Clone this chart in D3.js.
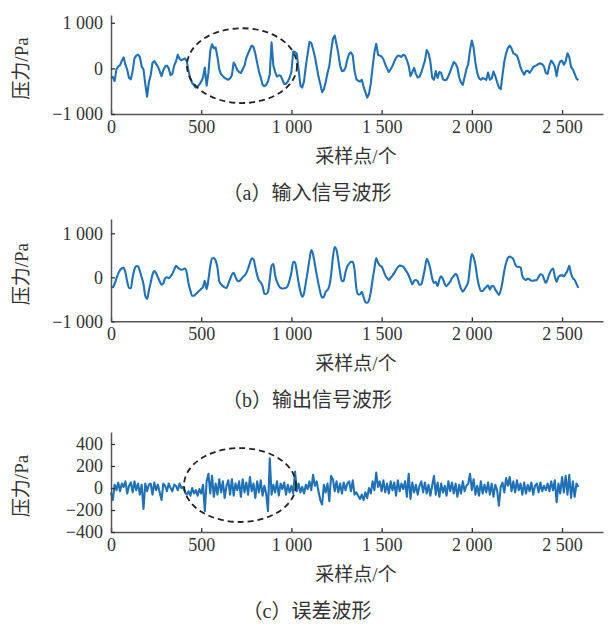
<!DOCTYPE html>
<html>
<head>
<meta charset="utf-8">
<script src="https://cdnjs.cloudflare.com/ajax/libs/d3/7.8.5/d3.min.js"></script>
<style>
body {margin: 0; background: #fff;}
text {font-family: "Liberation Serif", "Noto Sans CJK SC", serif; fill: #333;}
</style>
</head>
<body>
<svg id="chart" width="608" height="633"></svg>
<script>
// one value every 10 samples
const step = 10;

// (a) input pressure, Pa
const inputWave = [
  -216,-185,-280,-20,40,72,170,240,80,-30,
  -210,-240,-60,220,280,300,250,40,-20,-340,
  -620,-300,-150,120,160,100,40,-60,-170,-40,
  40,60,0,-150,-120,60,150,300,210,180,
  200,220,160,-60,-230,-320,-370,-420,-400,-350,
  -290,-200,20,-380,-100,380,530,440,460,250,
  -20,-130,-170,-210,-230,-250,-220,-150,130,60,
  -40,-80,-100,-20,60,230,330,420,500,470,
  320,120,-70,-200,-360,-390,-360,-290,-130,570,
  60,-80,-180,-150,-160,-250,-340,-340,-290,-200,
  -80,370,360,320,-40,-380,-420,-280,50,320,
  580,560,420,260,40,-180,-340,-520,-460,-300,
  -100,50,380,650,720,530,330,60,-60,-50,
  20,200,320,350,280,-60,-240,-270,-290,-250,
  -400,-520,-640,-560,-330,30,350,540,300,280,
  260,200,90,0,-80,-20,50,150,230,280,
  270,250,300,280,180,60,-170,-80,10,-120,
  -200,-180,-90,40,170,400,330,150,-200,-250,
  -60,-210,-80,-100,-240,-260,-250,-170,-70,40,
  140,100,20,-200,-310,-360,-190,-20,100,400,
  610,450,120,-100,-220,-250,-210,-230,-250,-90,
  -250,-220,-70,-170,-300,-420,-460,-150,150,330,
  450,500,440,330,310,280,170,20,-70,-140,
  -60,-50,-100,-40,30,50,70,100,110,90,
  40,-100,-120,60,170,120,40,-170,60,150,
  170,80,150,330,250,30,-20,-120,-220,-260
];

// (b) output pressure, Pa
const outputWave = [
  -212,-225,-150,-30,85,160,205,215,110,-100,
  -240,-250,0,180,255,250,140,0,-150,-420,
  -490,-300,-120,60,140,90,0,-90,-170,-140,
  -20,0,-20,20,80,170,260,220,190,170,
  180,200,100,-150,-300,-420,-420,-380,-340,-300,
  -260,-220,-80,-270,-50,250,430,440,380,220,
  -90,-160,-200,-230,-245,-150,-40,60,100,10,
  -70,-90,-50,0,40,100,200,330,430,410,
  230,50,-70,-120,-200,-370,-380,-330,-50,260,
  300,40,-100,-190,-240,-255,-250,-240,-190,-60,
  110,350,340,130,-130,-330,-440,-360,-120,130,
  400,620,520,300,60,-150,-340,-460,-440,-330,
  -290,-200,60,450,690,620,380,100,-90,-70,
  120,250,310,350,350,170,-250,-390,-390,-330,
  -450,-560,-580,-520,-330,-50,200,440,330,270,
  245,150,50,-20,-60,-10,40,100,170,230,
  265,260,243,180,120,40,-60,-160,-80,-60,
  -90,-170,-160,0,200,420,340,190,-20,-130,
  -100,-200,-50,20,-40,-150,-200,-150,-100,-20,
  30,80,20,-130,-260,-326,-270,-200,-100,250,
  530,450,280,0,-200,-310,-310,-260,-220,-180,
  -280,-200,-200,-280,-340,-400,-300,-100,150,330,
  440,470,450,410,300,240,240,220,30,-40,
  -60,-30,-50,-80,-75,-70,-60,10,70,60,
  -40,-130,-40,80,160,200,20,-100,10,40,
  50,20,80,150,260,80,-20,-60,-150,-240
];

// (c) error, Pa
const errorWave = [
  -40,-110,30,-20,50,-30,40,10,60,-50,
  20,50,-40,60,-20,40,-60,30,-190,40,
  -30,30,40,-60,50,-20,30,-40,-110,40,
  20,-30,40,0,-30,30,20,-20,40,0,
  10,-40,-60,-30,-70,0,-50,-20,-70,-10,
  -50,30,-210,60,130,-50,110,-80,40,-60,
  80,-40,60,-90,20,70,-60,80,-70,40,
  -20,60,-80,80,-40,50,-60,100,-30,40,
  -90,60,-40,70,-70,20,-50,-210,270,-60,
  30,-40,60,-70,40,-10,50,-60,30,-40,
  20,-50,150,-30,40,-40,10,-50,30,-10,
  60,-20,120,20,60,-30,-110,-150,30,-40,
  40,-120,110,80,-30,60,-40,40,-50,50,
  -20,40,60,-30,70,-60,-40,-70,-100,-60,
  -110,-40,-90,0,-50,60,-20,140,10,60,
  -30,70,-40,40,-50,60,-20,50,-70,70,
  -30,40,-10,60,-80,130,-100,50,-40,30,
  -60,20,60,-40,50,-50,30,-70,20,110,
  -60,50,-80,40,-40,20,-70,60,-30,50,
  -50,40,-80,30,-50,60,-30,20,40,130,
  -20,80,-60,20,-70,60,-50,30,-40,50,
  -60,40,-80,30,-20,-160,10,50,-40,90,
  20,100,-30,60,-40,70,-20,40,-60,50,
  -50,30,-30,50,-60,20,40,-40,50,-30,
  20,-20,40,-30,60,-20,70,-130,40,-50,
  100,-40,110,-60,120,-90,60,-80,40,10
];

const xTicks = [0, 500, 1000, 1500, 2000, 2500];
const yTicksA = [-1000, 0, 1000];
const yTicksB = [-1000, 0, 1000];
const yTicksC = [-400, -200, 0, 200, 400];
const captionTags = ["a", "b", "c"];
const captions = ["输入信号波形", "输出信号波形", "误差波形"];
const yLabel = "压力/Pa";
const xLabel = "采样点/个";

// dashed ellipses marking the same region: [centre sample, centre Pa, half width, half height]
const markA = [726, 60, 305, 820];
const markC = [715, 27, 310, 336];

const fmt = d3.formatLocale({decimal: ".", thousands: " ", grouping: [3], currency: ["", ""], minus: "\u2212"}).format(",d");

const svg = d3.select("#chart");
const x = d3.scaleLinear().domain([0, 2727]).range([111, 603]);

const panels = [
  {data: inputWave, ticks: yTicksA, dom: [-1000, 1170], rng: [114, 15], mark: markA, smooth: false},
  {data: outputWave, ticks: yTicksB, dom: [-1000, 1325], rng: [321.3, 219], mark: null, smooth: true},
  {data: errorWave, ticks: yTicksC, dom: [-400, 509], rng: [532, 432], mark: markC, smooth: false}
];

panels.forEach((p, k) => {
  const y = d3.scaleLinear().domain(p.dom).range(p.rng);
  const base = p.rng[0];

  const line = d3.line()
    .x((d, i) => x(i * step))
    .y(d => y(d))
    .curve(p.smooth ? d3.curveMonotoneX : d3.curveLinear);

  svg.append("path")
    .datum(p.data)
    .attr("d", line)
    .attr("fill", "none")
    .attr("stroke", "#1f72b8")
    .attr("stroke-width", 2.1)
    .attr("stroke-linejoin", "round");

  if (p.mark) {
    svg.append("ellipse")
      .attr("cx", x(p.mark[0]))
      .attr("cy", y(p.mark[1]))
      .attr("rx", x(p.mark[2]) - x(0))
      .attr("ry", y(0) - y(p.mark[3]))
      .attr("fill", "none")
      .attr("stroke", "#222")
      .attr("stroke-width", 1.8)
      .attr("stroke-dasharray", "6,4");
  }

  const gx = svg.append("g")
    .attr("transform", "translate(0," + base + ")")
    .call(d3.axisBottom(x).tickValues(xTicks).tickFormat(fmt).tickSizeInner(-4).tickSizeOuter(0).tickPadding(6));
  const gy = svg.append("g")
    .attr("transform", "translate(" + x(0) + ",0)")
    .call(d3.axisLeft(y).tickValues(p.ticks).tickFormat(fmt).tickSizeInner(-4).tickSizeOuter(0).tickPadding(8));

  [gx, gy].forEach(g => {
    g.select(".domain").attr("stroke", "#555").attr("stroke-width", 1.5);
    g.selectAll(".tick line").attr("stroke", "#333").attr("stroke-width", 1.3);
    g.selectAll(".tick text").attr("font-size", 18).attr("fill", "#333")
      .attr("font-family", "Liberation Serif");
  });

  const mid = (p.rng[0] + p.rng[1]) / 2;
  svg.append("text")
    .attr("transform", "translate(28," + (mid + 4) + ") rotate(-90)")
    .attr("text-anchor", "middle")
    .attr("font-size", 19)
    .text(yLabel);

  svg.append("text")
    .attr("x", 356)
    .attr("y", base + 49)
    .attr("text-anchor", "middle")
    .attr("font-size", 19)
    .text(xLabel);

  const cap = svg.append("text")
    .attr("x", 307)
    .attr("y", base + 86)
    .attr("text-anchor", "middle")
    .attr("font-size", 20);
  cap.append("tspan").attr("font-family", "Noto Sans CJK SC").text("（");
  cap.append("tspan").text(captionTags[k]);
  cap.append("tspan").attr("font-family", "Noto Sans CJK SC").text("）" + captions[k]);
});
</script>
</body>
</html>
